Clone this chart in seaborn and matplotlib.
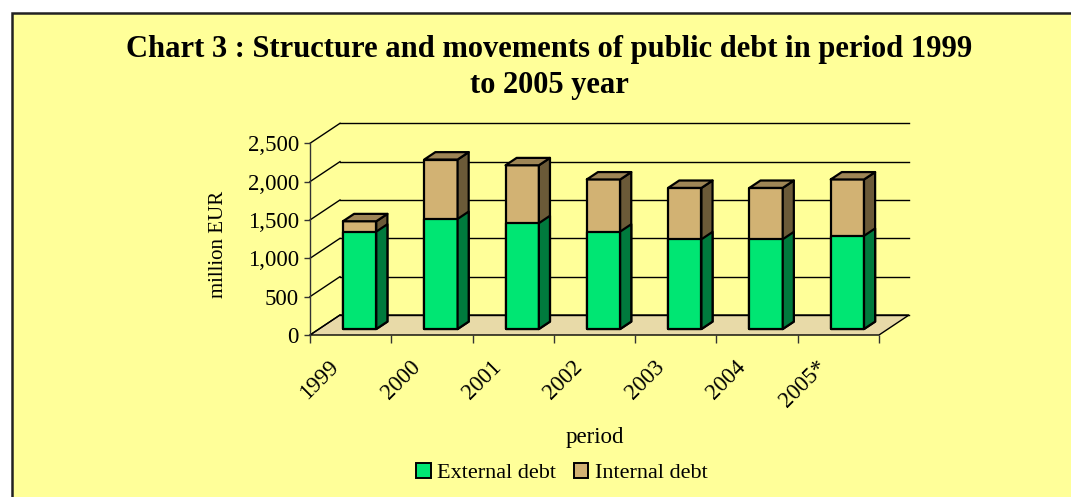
import numpy as np
import pandas as pd
import matplotlib
matplotlib.use("Agg")
import matplotlib.pyplot as plt
from matplotlib.patches import Polygon, Rectangle, Patch
from matplotlib.transforms import ScaledTranslation
import seaborn as sns

# Public debt, million EUR
periods = ["1999", "2000", "2001", "2002", "2003", "2004", "2005*"]
external_debt = [1270, 1435, 1380, 1270, 1170, 1170, 1215]
internal_debt = [135, 775, 755, 680, 670, 670, 735]
y_ticks = [0, 500, 1000, 1500, 2000, 2500]

W, H, DPI = 1071, 497, 100
BG = "#FFFF99"
FLOOR = "#E8DAA8"
GREEN_FRONT, GREEN_SIDE = "#00E673", "#007A3D"
TAN_FRONT, TAN_TOP, TAN_SIDE = "#D2B273", "#9E8556", "#6B5A38"
FONT = "Liberation Serif"

plt.rcParams["font.family"] = FONT

fig = plt.figure(figsize=(W / DPI, H / DPI), dpi=DPI, facecolor="white")

# chart area panel with dark border on top/left
fig.patches.append(Rectangle((12 / W, -0.05), 1.1, 1 - 13 / H + 0.05,
                             transform=fig.transFigure, facecolor=BG,
                             edgecolor="#222222", linewidth=1.8, zorder=-10))

# axes frame = front plane of the 3D box (pixel placement)
x0_px, x1_px, y0_px, ytop_px = 310, 879, 335, 143.3
ax = fig.add_axes([x0_px / W, 1 - y0_px / H, (x1_px - x0_px) / W,
                   (y0_px - ytop_px) / H])
ax.set_facecolor("none")
ax.set_zorder(1)

df = pd.DataFrame({"period": periods,
                   "external": external_debt,
                   "internal": internal_debt})
df["total"] = df["external"] + df["internal"]

bar_kw = dict(width=0.41, saturation=1, edgecolor="black", linewidth=1.6,
              ax=ax, errorbar=None)
n0 = len(ax.patches)
sns.barplot(data=df, x="period", y="total", color=TAN_FRONT, **bar_kw)
tan_bars = ax.patches[n0:]
n1 = len(ax.patches)
sns.barplot(data=df, x="period", y="external", color=GREEN_FRONT, **bar_kw)
green_bars = ax.patches[n1:]

ax.set_xlim(-0.5, len(periods) - 0.5)
ax.set_ylim(0, 2500)

# depth of the box in pixels (display coords, y up)
DEPTH = np.array([30.0, 20.0])
F_FRONT, F_BACK = 0.3, 0.67


def shifted(x, y, frac):
    p = ax.transData.transform((x, y)) + frac * DEPTH
    return ax.transData.inverted().transform(p)


line_kw = dict(color="black", linewidth=1.0, clip_on=False)

# floor
floor = Polygon([shifted(-0.5, 0, 0), shifted(6.5, 0, 0),
                 shifted(6.5, 0, 1), shifted(-0.5, 0, 1)],
                closed=True, facecolor=FLOOR, edgecolor="black",
                linewidth=1.0, clip_on=False, zorder=1)
ax.add_patch(floor)

# gridlines on back wall and side wall
for v in y_ticks:
    a, b = shifted(-0.5, v, 1), shifted(6.5, v, 1)
    ax.plot([a[0], b[0]], [a[1], b[1]], zorder=1.5, **line_kw)
    c = shifted(-0.5, v, 0)
    ax.plot([c[0], a[0]], [c[1], a[1]], zorder=1.5, **line_kw)

front_off = ScaledTranslation(F_FRONT * DEPTH[0] / DPI,
                              F_FRONT * DEPTH[1] / DPI, fig.dpi_scale_trans)


def add_faces(bar, side_color, top_color, z):
    x = bar.get_x()
    w = bar.get_width()
    h = bar.get_height()
    side = [shifted(x + w, 0, F_FRONT), shifted(x + w, h, F_FRONT),
            shifted(x + w, h, F_BACK), shifted(x + w, 0, F_BACK)]
    ax.add_patch(Polygon(side, closed=True, facecolor=side_color,
                         edgecolor="black", linewidth=1.6, joinstyle="round",
                         clip_on=False, zorder=z))
    if top_color is not None:
        top = [shifted(x, h, F_FRONT), shifted(x + w, h, F_FRONT),
               shifted(x + w, h, F_BACK), shifted(x, h, F_BACK)]
        ax.add_patch(Polygon(top, closed=True, facecolor=top_color,
                             edgecolor="black", linewidth=1.6,
                             joinstyle="round", clip_on=False, zorder=z))
    bar.set_transform(ax.transData + front_off)
    bar.set_clip_on(False)
    bar.set_zorder(z)
    bar.set_joinstyle("round")


for bar in tan_bars:
    add_faces(bar, TAN_SIDE, TAN_TOP, 3)
for bar in green_bars:
    add_faces(bar, GREEN_SIDE, None, 4)

# axes styling
for s in ["top", "right", "bottom"]:
    ax.spines[s].set_visible(False)
ax.spines["left"].set_color("#333333")
ax.spines["left"].set_linewidth(1.0)

ax.set_yticks(y_ticks, [f"{v:,}" for v in y_ticks])
ax.tick_params(axis="y", length=4, width=1.0, color="#333333", pad=4,
               labelsize=16.5)
ax.set_xticks(np.arange(-0.5, len(periods)), minor=True)
ax.tick_params(axis="x", which="minor", length=6, width=1.0, color="#333333")
ax.set_xticks(range(len(periods)), periods)
ax.tick_params(axis="x", which="major", length=0, pad=21, labelsize=16.5)
lab_off = ScaledTranslation(-15 / DPI, 0, fig.dpi_scale_trans)
for lab in ax.get_xticklabels():
    lab.set_rotation(45)
    lab.set_ha("right")
    lab.set_va("center")
    lab.set_rotation_mode("anchor")
    lab.set_transform(lab.get_transform() + lab_off)

ax.set_ylabel("million EUR", fontsize=15)
ax.yaxis.set_label_coords((228 - x0_px) / (x1_px - x0_px),
                          (y0_px - 244) / (y0_px - ytop_px))
ax.set_xlabel("period", fontsize=16.5, va="baseline")
ax.xaxis.set_label_coords(0.5, (y0_px - 443) / (y0_px - ytop_px))

fig.text(549 / W, 1 - 56.7 / H,
         "Chart 3 : Structure and movements of public debt in period 1999",
         ha="center", va="baseline", fontsize=22, fontweight="bold")
fig.text(549 / W, 1 - 93.3 / H, "to 2005 year",
         ha="center", va="baseline", fontsize=22, fontweight="bold")

handles = [Patch(facecolor=GREEN_FRONT, edgecolor="black", linewidth=1.4,
                 label="External debt"),
           Patch(facecolor=TAN_FRONT, edgecolor="black", linewidth=1.4,
                 label="Internal debt")]
fig.legend(handles=handles, loc="center", bbox_to_anchor=(562 / W, 1 - 473 / H),
           ncol=2, frameon=False, fontsize=16, handlelength=0.65,
           handleheight=0.65, handletextpad=0.3, columnspacing=0.8,
           borderpad=0)

fig.savefig("out.png", dpi=DPI, facecolor="white")
